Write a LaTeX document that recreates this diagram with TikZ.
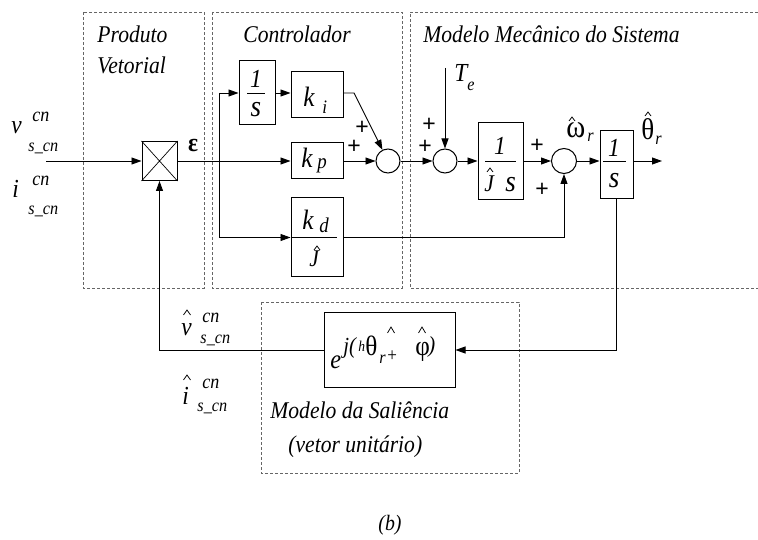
\documentclass[tikz,border=0pt]{standalone}
\usepackage{fontspec}
\setmainfont{Liberation Serif}[FakeStretch=0.9]
\newfontfamily\plusfont{Liberation Sans}
\usetikzlibrary{arrows.meta}
\newcommand\fs[1]{\fontsize{#1}{#1}\selectfont}
\begin{document}
\begin{tikzpicture}[x=1pt,y=-1pt,line width=0.9pt,
  grp/.style={draw=black!60,dash pattern=on 3pt off 2pt,line width=0.8pt},
  blk/.style={draw,line width=1pt,inner sep=0pt,rectangle},
  sumnode/.style={draw,circle,minimum size=24pt,inner sep=0pt,line width=1pt},
  arr/.style={-{Triangle[length=10pt,width=7pt]}},
  tl/.style={inner sep=0pt,anchor=base west,font=\itshape},
  gr/.style={inner sep=0pt,anchor=base west,font=\upshape},
  plus/.style={inner sep=0pt,anchor=center,font=\plusfont\fs{23}},
  hatst/.style={line width=0.75pt,line join=miter,line cap=butt},
  title/.style={inner sep=0pt,anchor=base west,font=\fs{24}\itshape}]
\useasboundingbox (0,0) rectangle (758,540);

% dashed groups
\draw[grp] (83,12) rectangle (204,288);
\draw[grp] (212,12) rectangle (402,288);
\draw[grp] (758,12) -- (410,12) -- (410,288) -- (758,288);
\draw[grp] (261,302) rectangle (519,473);

% titles
\node[title] (tProd) at (97,43) {Produto};
\node[title] (tVet) at (97,74) {Vetorial};
\node[title] (tCtrl) at (243,43) {Controlador};
\node[title] (tMech) at (423,43) {Modelo Mecânico do Sistema};
\node[title] (tSal) at (270,418) {Modelo da Saliência};
\node[title] (tVu) at (288,452) {(vetor unitário)};
\node[title,font=\fs{22}\itshape] (tB) at (378,530) {(b)};

% blocks
\node[blk,minimum width=35pt,minimum height=39pt] (mult) at (159.5,161) {};
\draw[line width=0.7pt] (mult.north west) -- (mult.south east) (mult.north east) -- (mult.south west);
\node[blk,minimum width=36pt,minimum height=64pt] (I1) at (257,93) {};
\node[blk,minimum width=52pt,minimum height=46pt] (Ki) at (317,95) {};
\node[blk,minimum width=52pt,minimum height=36pt] (Kp) at (317,161) {};
\node[blk,minimum width=52pt,minimum height=79pt] (Kd) at (317,237.5) {};
\node[sumnode] (sumC) at (388,161) {};
\node[sumnode] (sum1) at (445,161) {};
\node[blk,minimum width=45pt,minimum height=77pt] (JS) at (500.5,161) {};
\node[sumnode,minimum size=25pt] (sum2) at (564,161) {};
\node[blk,minimum width=33pt,minimum height=68pt] (I2) at (616.5,165) {};
\node[blk,minimum width=131pt,minimum height=75pt] (exp) at (389.5,350) {};

% block contents
\node[tl,font=\fs{26}\itshape,anchor=base] (I1n) at (256,88) {1};
\draw[line width=0.8pt] (247,93) -- (265,93);
\node[tl,font=\fs{30}\itshape,anchor=base] (I1d) at (256,117) {s};
\node[tl,font=\fs{28}\itshape] (kik) at (303,107) {k};
\node[tl,font=\fs{19}\itshape] (kii) at (322,114) {i};
\node[tl,font=\fs{28}\itshape] (kpk) at (301,168) {k};
\node[tl,font=\fs{21}\itshape] (kpp) at (317,169) {p};
\node[tl,font=\fs{28}\itshape] (kdk) at (302,230) {k};
\node[tl,font=\fs{21}\itshape] (kdd) at (319,233) {d};
\draw[line width=0.8pt] (292,237) -- (337,237);
\node[tl,font=\fs{24}\itshape] (kdJ) at (309,267) {J};
\draw[hatst] (317,246) ++(-3,4) -- ++(3,-4) -- ++(3,4);

\node[tl,font=\fs{26}\itshape,anchor=base] (JSn) at (500,155) {1};
\draw[line width=0.8pt] (485,161) -- (516,161);
\node[tl,font=\fs{24}\itshape] (JSJ) at (484,192) {J};
\draw[hatst] (490,168) ++(-3,4) -- ++(3,-4) -- ++(3,4);
\node[tl,font=\fs{30}\itshape] (JSs) at (505,192) {s};

\node[tl,font=\fs{26}\itshape,anchor=base] (I2n) at (614,157) {1};
\draw[line width=0.8pt] (603,161) -- (626,161);
\node[tl,font=\fs{30}\itshape,anchor=base] (I2d) at (614,188) {s};

% exponential
\node[tl,font=\fs{27}\itshape] (ee) at (330,368) {e};
\node[tl,font=\fs{23}\itshape] (ej) at (343,353) {j(};
\node[tl,font=\fs{15}\itshape] (eh) at (358,351) {h};
\node[gr,font=\fs{28}\upshape] (eth) at (365,355) {θ};
\node[tl,font=\fs{18}\itshape] (er) at (379,363) {r};
\node[gr,font=\fs{19}\upshape] (epl) at (387,361) {+};
\node[gr,font=\fs{28}\upshape] (ephi) at (415,355) {φ};
\node[tl,font=\fs{23}\itshape] (ecl) at (428,352) {)};
\draw[hatst] (391,327) ++(-3.5,6) -- ++(3.5,-6) -- ++(3.5,6);
\draw[hatst] (422,327) ++(-3.5,6) -- ++(3.5,-6) -- ++(3.5,6);

% connectors
\coordinate (in1) at (46,161);
\draw[arr] (in1) -- (mult.west);
\draw[arr] (mult.east) -- (Kp.west);
\coordinate (br) at (219,161);
\draw (br |- I1.west) -- (br |- Kd.west);
\draw[arr] (br |- I1.west) -- (I1.west);
\draw[arr] (br |- Kd.west) -- (Kd.west);
\draw[arr] (I1.east) -- (I1.east -| Ki.west);
\coordinate (kibend) at (354,93);
\draw[arr] (I1.east -| Ki.east) -- (kibend) -- (sumC);
\draw[arr] (Kp.east) -- (sumC.west);
\draw[arr] (sumC.east) -- (sum1.west);
\coordinate (te) at (445,68);
\draw[arr] (te) -- (sum1.north);
\draw[arr] (sum1.east) -- (JS.west);
\draw[arr] (JS.east) -- (JS.east -| sum2.west);
\draw[arr] (Kd.east) -| (sum2.south);
\draw[arr] (sum2.east) -- (sum2.east -| I2.west);
\coordinate (out) at (662,161);
\draw[arr] (sum2.east -| I2.east) -- (out);
\draw[arr] (I2.south) |- (exp.east);
\draw[arr] (exp.west) -| (mult.south);

% signs
\node[plus] (p1) at (362,128) {+};
\node[plus] (p2) at (354,147) {+};
\node[plus] (p3) at (429,125) {+};
\node[plus] (p4) at (425,147) {+};
\node[plus] (p5) at (537,146) {+};
\node[plus] (p6) at (542,190) {+};

% signal labels
\node[gr,font=\fs{26}\bfseries\upshape,anchor=center] (eps) at (193,146) {ε};
\node[tl,font=\fs{26}\itshape] (Tt) at (454,82) {T};
\node[tl,font=\fs{18}\itshape] (Te) at (467,91) {e};
\node[gr,font=\fs{32}\upshape] (om) at (566,138) {ω};
\draw[hatst] (572,117) ++(-3,4) -- ++(3,-4) -- ++(3,4);
\node[tl,font=\fs{18}\itshape] (omr) at (587,142) {r};
\node[gr,font=\fs{30}\upshape] (th) at (641,140) {θ};
\draw[hatst] (648,112) ++(-3,4) -- ++(3,-4) -- ++(3,4);
\node[tl,font=\fs{18}\itshape] (thr) at (655,145) {r};

% inputs
\node[tl,font=\fs{26}\itshape] (vin) at (11,134) {v};
\node[tl,font=\fs{20}\itshape] (vcn) at (32,122) {cn};
\node[tl,font=\fs{18}\itshape] (vs) at (28,152) {s\_cn};
\node[tl,font=\fs{26}\itshape] (iin) at (12,198) {i};
\node[tl,font=\fs{20}\itshape] (icn) at (32,186) {cn};
\node[tl,font=\fs{18}\itshape] (is) at (28,215) {s\_cn};

% estimates
\node[tl,font=\fs{26}\itshape] (vh) at (181,335) {v};
\draw[hatst] (187,310) ++(-3.5,5) -- ++(3.5,-5) -- ++(3.5,5);
\node[tl,font=\fs{20}\itshape] (vhcn) at (202,322) {cn};
\node[tl,font=\fs{18}\itshape] (vhs) at (200,343) {s\_cn};
\node[tl,font=\fs{26}\itshape] (ih) at (182,404) {i};
\draw[hatst] (187,375) ++(-3.5,5) -- ++(3.5,-5) -- ++(3.5,5);
\node[tl,font=\fs{20}\itshape] (ihcn) at (202,388) {cn};
\node[tl,font=\fs{18}\itshape] (ihs) at (197,411) {s\_cn};
\end{tikzpicture}
\end{document}
